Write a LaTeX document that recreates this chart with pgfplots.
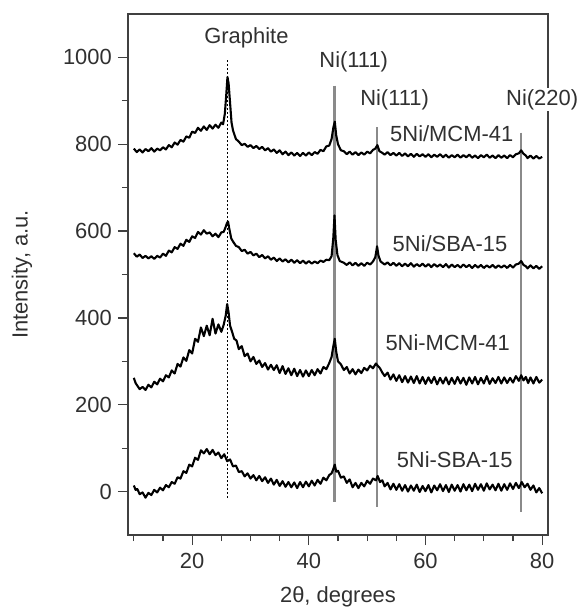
\documentclass[border=0pt]{standalone}
\usepackage{pgfplots}
\pgfplotsset{compat=1.18}
\usepackage{fontspec}
\setmainfont{Liberation Sans}
\definecolor{axgray}{HTML}{404040}
\definecolor{txtgray}{HTML}{303030}
\definecolor{linegray}{HTML}{8A8A8A}
\begin{document}
\begin{tikzpicture}
\useasboundingbox (-128bp,-75bp) rectangle (452bp,535bp);
\begin{axis}[
  at={(0,0)}, anchor=south west,
  scale only axis, width=420bp, height=521bp,
  xmin=9, xmax=81, ymin=-100, ymax=1100,
  xtick={20,40,60,80}, minor xtick={10,15,25,30,35,45,50,55,65,70,75},
  ytick={0,200,400,600,800,1000}, minor ytick={100,300,500,700,900},
  xtick pos=bottom, ytick pos=left, tick align=outside,
  major tick length=10bp, minor tick length=6bp,
  every tick/.style={axgray, line width=1.3pt},
  axis line style={axgray, line width=1.6pt},
  font=\fontsize{22}{26}\selectfont,
  /pgf/number format/assume math mode=true,
  /pgf/number format/1000 sep={},
  tick label style={txtgray},
  xticklabel style={anchor=center, yshift=-16bp},
  yticklabel style={anchor=east, inner sep=0pt, xshift=-6bp},
  xlabel={2θ, degrees},
  ylabel={Intensity, a.u.},
  xlabel style={at={(axis description cs:0.5,0)}, anchor=center, yshift=-62bp, txtgray},
  ylabel style={at={(axis description cs:0,0.5)}, anchor=center, yshift=106bp, txtgray},
  clip=false,
]
% reference lines
\addplot[black, line width=0.9pt, dash pattern=on 1.5bp off 2.5bp] coordinates {(26.0,993) (26.0,-14)};
\addplot[linegray, line width=2.2pt] coordinates {(44.4,935) (44.4,-25)};
\addplot[linegray, line width=2.2pt] coordinates {(51.7,839) (51.7,-35)};
\addplot[linegray, line width=2.2pt] coordinates {(76.4,827) (76.4,-48)};
% 5Ni/MCM-41
\addplot[black, line width=2.1pt, line join=round] coordinates {
(10,790) (10.5,782) (11,788) (11.5,781) (12,789) (12.5,784) (13,791) (13.5,783) (14,790) (14.5,786) (15,793) (15.5,788) (16,798) (16.5,793) (17,804) (17.5,799) (18,810) (18.5,806) (19,818) (19.5,815) (20,829) (20.5,826) (21,838) (21.5,831) (22,841) (22.5,833) (23,844) (23.5,836) (24,845) (24.5,838) (25,850) (25.3,846) (25.6,870) (25.85,915) (26.05,955) (26.25,940) (26.5,895) (26.75,850) (27,832) (27.5,812) (28,806) (28.5,798) (29,801) (29.5,794) (30,798) (30.5,791) (31,796) (31.5,789) (32,794) (32.5,786) (33,791) (33.5,783) (34,788) (34.5,780) (35,786) (35.5,777) (36,783) (36.5,775) (37,781) (37.5,774) (38,780) (38.5,773) (39,780) (39.5,774) (40,781) (40.5,775) (41,782) (41.5,778) (42,787) (42.5,784) (43,795) (43.5,797) (43.9,812) (44.2,838) (44.45,852) (44.7,820) (45,800) (45.5,786) (46,784) (46.5,777) (47,783) (47.5,776) (48,782) (48.5,775) (49,781) (49.5,776) (50,783) (50.5,779) (51,787) (51.4,790) (51.75,798) (52.1,784) (52.5,781) (53,776) (53.5,782) (54,775) (54.5,780) (55,774) (55.5,780) (56,773) (56.5,779) (57,772) (57.5,778) (58,771) (58.5,778) (59,772) (59.5,777) (60,771) (60.5,777) (61,770) (61.5,776) (62,771) (62.5,777) (63,770) (63.5,776) (64,769) (64.5,775) (65,770) (65.5,776) (66,769) (66.5,775) (67,770) (67.5,776) (68,769) (68.5,774) (69,768) (69.5,775) (70,770) (70.5,776) (71,769) (71.5,774) (72,768) (72.5,775) (73,769) (73.5,774) (74,768) (74.5,775) (75,770) (75.5,777) (76,779) (76.4,786) (76.8,778) (77.2,774) (77.5,768) (78,774) (78.5,767) (79,773) (79.5,767) (80,771)};
% 5Ni/SBA-15
\addplot[black, line width=2.1pt, line join=round] coordinates {
(10,549) (10.5,541) (11,546) (11.5,538) (12,543) (12.5,537) (13,542) (13.5,536) (14,543) (14.5,539) (15,548) (15.5,543) (16,555) (16.5,551) (17,563) (17.5,559) (18,571) (18.5,566) (19,580) (19.5,575) (20,588) (20.5,584) (21,598) (21.5,592) (22,602) (22.5,594) (23,597) (23.5,588) (24,594) (24.5,586) (25,597) (25.4,598) (25.7,608) (25.95,618) (26.15,622) (26.4,603) (26.7,583) (27,576) (27.5,566) (28,563) (28.5,554) (29,557) (29.5,548) (30,552) (30.5,544) (31,548) (31.5,540) (32,545) (32.5,537) (33,542) (33.5,534) (34,539) (34.5,531) (35,537) (35.5,530) (36,535) (36.5,528) (37,534) (37.5,527) (38,533) (38.5,526) (39,532) (39.5,525) (40,531) (40.5,525) (41,530) (41.5,526) (42,532) (42.5,529) (43,534) (43.5,533) (43.9,542) (44.2,585) (44.4,636) (44.6,580) (44.9,545) (45.3,531) (46,527) (46.5,522) (47,528) (47.5,521) (48,527) (48.5,520) (49,526) (49.5,520) (50,527) (50.5,523) (51,530) (51.4,540) (51.7,565) (51.95,543) (52.3,530) (53,523) (53.5,528) (54,521) (54.5,527) (55,520) (55.5,526) (56,519) (56.5,525) (57,519) (57.5,526) (58,518) (58.5,524) (59,519) (59.5,525) (60,518) (60.5,524) (61,517) (61.5,524) (62,518) (62.5,523) (63,517) (63.5,524) (64,516) (64.5,523) (65,517) (65.5,522) (66,516) (66.5,523) (67,517) (67.5,522) (68,515) (68.5,522) (69,516) (69.5,522) (70,515) (70.5,521) (71,516) (71.5,522) (72,515) (72.5,521) (73,516) (73.5,521) (74,515) (74.5,522) (75,516) (75.5,523) (76,525) (76.4,531) (76.8,522) (77.2,519) (77.5,514) (78,521) (78.5,514) (79,520) (79.5,513) (80,519)};
% 5Ni-MCM-41
\addplot[black, line width=2.1pt, line join=round] coordinates {
(10,262) (10.3,250) (10.6,244) (11,236) (11.5,241) (12,234) (12.5,246) (13,240) (13.5,253) (14,247) (14.5,260) (15,254) (15.5,268) (16,263) (16.5,279) (17,272) (17.5,294) (18,288) (18.5,309) (19,301) (19.5,326) (20,318) (20.5,352) (21,345) (21.5,378) (22,358) (22.5,382) (23,360) (23.5,398) (24,364) (24.5,385) (25,368) (25.4,384) (25.75,405) (26.0,432) (26.25,412) (26.5,382) (26.8,370) (27.2,352) (27.6,348) (28,328) (28.5,335) (29,312) (29.5,318) (30,300) (30.5,310) (31,294) (31.5,302) (32,287) (32.5,296) (33,281) (33.5,292) (34,280) (34.5,291) (35,273) (35.5,289) (36,271) (36.5,284) (37,268) (37.5,283) (38,266) (38.5,280) (39,265) (39.5,279) (40,266) (40.5,280) (41,268) (41.5,282) (42,272) (42.5,287) (43,282) (43.5,296) (43.9,310) (44.2,335) (44.45,352) (44.7,322) (45,300) (45.5,293) (46,280) (46.5,287) (47,272) (47.5,282) (48,270) (48.5,281) (49,273) (49.5,285) (50,279) (50.5,290) (51,284) (51.5,295) (51.8,290) (52.2,284) (52.6,274) (53,266) (53.5,274) (54,258) (54.5,270) (55,255) (55.5,268) (56,252) (56.5,266) (57,251) (57.5,265) (58,250) (58.5,266) (59,249) (59.5,264) (60,248) (60.5,263) (61,250) (61.5,264) (62,247) (62.5,262) (63,249) (63.5,263) (64,247) (64.5,262) (65,248) (65.5,264) (66,249) (66.5,262) (67,246) (67.5,263) (68,249) (68.5,264) (69,247) (69.5,262) (70,249) (70.5,266) (71,248) (71.5,261) (72,250) (72.5,264) (73,249) (73.5,263) (74,250) (74.5,262) (75,251) (75.5,266) (76,255) (76.4,268) (76.8,256) (77.2,264) (77.6,250) (78,263) (78.5,249) (79,264) (79.5,251) (80,258)};
% 5Ni-SBA-15
\addplot[black, line width=2.1pt, line join=round] coordinates {
(10,14) (10.3,4) (10.6,6) (11,-6) (11.5,-2) (12,-14) (12.5,-3) (13,-8) (13.5,4) (14,-2) (14.5,9) (15,3) (15.5,15) (16,10) (16.5,22) (17,18) (17.5,33) (18,30) (18.5,47) (19,43) (19.5,62) (20,58) (20.5,78) (21,73) (21.5,95) (22,88) (22.5,98) (23,86) (23.5,96) (24,84) (24.5,90) (25,77) (25.5,86) (26,70) (26.5,74) (27,58) (27.5,60) (28,45) (28.5,47) (29,35) (29.5,42) (30,30) (30.5,38) (31,26) (31.5,36) (32,24) (32.5,33) (33,20) (33.5,30) (34,16) (34.5,27) (35,13) (35.5,24) (36,11) (36.5,22) (37,10) (37.5,21) (38,8) (38.5,22) (39,10) (39.5,23) (40,12) (40.5,25) (41,14) (41.5,27) (42,18) (42.5,32) (43,26) (43.5,38) (43.9,42) (44.2,52) (44.45,62) (44.7,46) (45,48) (45.5,32) (46,35) (46.5,20) (47,28) (47.5,10) (48,20) (48.5,8) (49,20) (49.5,12) (50,25) (50.5,18) (51,30) (51.5,26) (51.8,36) (52.2,22) (52.6,26) (53,12) (53.5,20) (54,5) (54.5,18) (55,4) (55.5,17) (56,2) (56.5,15) (57,0) (57.5,14) (58,2) (58.5,16) (59,-1) (59.5,13) (60,1) (60.5,15) (61,-2) (61.5,14) (62,3) (62.5,17) (63,1) (63.5,15) (64,-1) (64.5,16) (65,2) (65.5,15) (66,0) (66.5,17) (67,3) (67.5,16) (68,1) (68.5,18) (69,4) (69.5,17) (70,2) (70.5,19) (71,5) (71.5,16) (72,3) (72.5,18) (73,2) (73.5,17) (74,4) (74.5,19) (75,6) (75.5,20) (76,8) (76.5,22) (77,10) (77.5,18) (78,4) (78.5,14) (79,-2) (79.5,8) (80,-4)};
% annotations
\node[txtgray] at (axis cs:29.3,1046) {Graphite};
\node[txtgray] at (axis cs:47.7,989) {Ni(111)};
\node[txtgray] at (axis cs:54.7,903) {Ni(111)};
\node[txtgray, fill=white, inner sep=1bp] at (axis cs:80,903) {Ni(220)};
\node[txtgray] at (axis cs:64.5,825) {5Ni/MCM-41};
\node[txtgray] at (axis cs:64.2,572) {5Ni/SBA-15};
\node[txtgray] at (axis cs:63.8,343) {5Ni-MCM-41};
\node[txtgray] at (axis cs:65,74) {5Ni-SBA-15};
\end{axis}
\end{tikzpicture}
\end{document}
